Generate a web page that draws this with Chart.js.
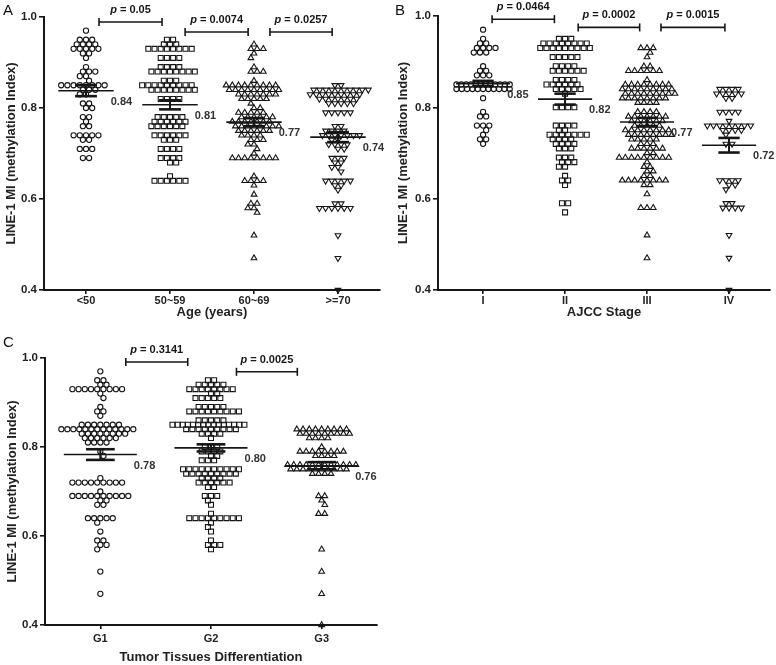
<!DOCTYPE html>
<html>
<head>
<meta charset="utf-8">
<script src="https://cdn.jsdelivr.net/npm/chart.js@4.4.0/dist/chart.umd.min.js"></script>
<style>
  html, body { margin: 0; padding: 0; background: #fff; }
  #wrap { position: relative; width: 776px; height: 665px; overflow: hidden;
          font-family: Arial, "Liberation Sans", sans-serif; }
  canvas { position: absolute; }
  .tag { position: absolute; font-size: 15px; line-height: 1; color: #111; }
</style>
</head>
<body>
<div id="wrap">
  <canvas id="chartA" width="390" height="325" style="left:0;top:0"></canvas>
  <canvas id="chartB" width="386" height="325" style="left:390px;top:0"></canvas>
  <canvas id="chartC" width="390" height="335" style="left:0;top:330px"></canvas>
  <div class="tag" style="left:3px;top:2px">A</div>
  <div class="tag" style="left:395px;top:2px">B</div>
  <div class="tag" style="left:3px;top:334px">C</div>
</div>
<script>
(function () {
    "use strict";

    const yTicks = [0.4, 0.6, 0.8, 1.0];
    const ageGroups = ['<50', '50~59', '60~69', '>=70'];
    const stageGroups = ['I', 'II', 'III', 'IV'];
    const gradeGroups = ['G1', 'G2', 'G3'];

    // [methylation index, number of patients at that value]
    const ageUnder50 = [[0.97,1],[0.95,3],[0.94,4],[0.93,5],[0.92,2],[0.91,1],[0.89,1],[0.88,3],[0.87,2],[0.86,1],[0.85,8],[0.84,3],[0.83,2],[0.81,2],[0.80,2],[0.78,2],[0.77,1],[0.76,2],[0.74,5],[0.73,2],[0.71,3],[0.69,2]];
    const age50s = [[0.95,2],[0.94,3],[0.93,8],[0.91,4],[0.89,4],[0.88,8],[0.86,3],[0.85,9],[0.84,8],[0.82,4],[0.78,5],[0.77,6],[0.76,6],[0.74,6],[0.73,3],[0.71,4],[0.69,4],[0.68,2],[0.65,1],[0.64,6]];
    const age60s = [[0.94,1],[0.93,3],[0.92,1],[0.91,1],[0.89,1],[0.88,3],[0.86,1],[0.85,9],[0.84,9],[0.83,7],[0.82,5],[0.81,1],[0.80,2],[0.79,5],[0.78,6],[0.77,7],[0.76,8],[0.75,6],[0.74,4],[0.73,3],[0.72,2],[0.71,1],[0.70,1],[0.69,8],[0.65,1],[0.64,4],[0.63,1],[0.61,1],[0.59,2],[0.58,2],[0.57,1],[0.52,1],[0.47,1]];
    const age70plus = [[0.85,2],[0.84,10],[0.83,9],[0.82,7],[0.81,5],[0.79,5],[0.76,2],[0.75,4],[0.74,7],[0.73,2],[0.72,4],[0.71,2],[0.69,3],[0.68,2],[0.67,2],[0.66,1],[0.64,5],[0.63,2],[0.62,1],[0.59,2],[0.58,6],[0.52,1],[0.47,1],[0.40,1]];

    const stageI = [[0.97,1],[0.95,1],[0.94,2],[0.93,4],[0.92,3],[0.89,1],[0.88,2],[0.87,3],[0.85,12],[0.84,11],[0.82,1],[0.79,1],[0.78,2],[0.76,3],[0.75,1],[0.74,1],[0.73,2],[0.72,1]];
    const stageII = [[0.95,3],[0.94,8],[0.93,9],[0.91,5],[0.89,4],[0.88,6],[0.86,4],[0.85,6],[0.84,5],[0.83,1],[0.80,4],[0.76,4],[0.75,2],[0.74,7],[0.73,4],[0.72,4],[0.71,3],[0.69,3],[0.68,3],[0.67,2],[0.65,1],[0.64,2],[0.63,1],[0.59,2],[0.57,1]];
    const stageIII = [[0.93,3],[0.92,1],[0.91,1],[0.89,2],[0.88,6],[0.86,1],[0.85,8],[0.84,9],[0.83,9],[0.82,8],[0.81,4],[0.79,4],[0.78,7],[0.77,6],[0.76,5],[0.75,8],[0.74,8],[0.73,5],[0.72,3],[0.71,6],[0.70,2],[0.69,9],[0.68,1],[0.67,2],[0.66,2],[0.65,2],[0.64,8],[0.63,2],[0.61,1],[0.58,3],[0.52,1],[0.47,1]];
    const stageIV = [[0.84,4],[0.83,5],[0.82,2],[0.79,4],[0.77,1],[0.76,8],[0.75,4],[0.74,1],[0.72,2],[0.64,4],[0.63,2],[0.62,1],[0.59,2],[0.58,4],[0.52,1],[0.47,1],[0.40,1]];

    const gradeG1 = [[0.97,1],[0.95,2],[0.94,2],[0.93,9],[0.92,1],[0.91,1],[0.89,1],[0.88,2],[0.87,1],[0.85,7],[0.84,13],[0.83,8],[0.82,6],[0.81,4],[0.79,1],[0.78,1],[0.73,1],[0.72,9],[0.70,1],[0.69,10],[0.68,2],[0.67,2],[0.64,5],[0.63,1],[0.61,1],[0.59,2],[0.58,2],[0.57,1],[0.52,1],[0.47,1]];
    const gradeG2 = [[0.95,2],[0.94,5],[0.93,8],[0.92,2],[0.91,5],[0.89,5],[0.88,9],[0.86,5],[0.85,15],[0.84,9],[0.83,4],[0.82,1],[0.80,3],[0.79,4],[0.78,2],[0.77,3],[0.75,10],[0.74,9],[0.73,4],[0.72,6],[0.71,2],[0.69,3],[0.68,1],[0.67,1],[0.65,1],[0.64,9],[0.63,1],[0.62,1],[0.61,1],[0.59,1],[0.58,3],[0.57,1]];
    const gradeG3 = [[0.84,9],[0.83,9],[0.82,4],[0.80,1],[0.79,8],[0.78,4],[0.76,12],[0.75,10],[0.74,4],[0.69,2],[0.68,1],[0.67,1],[0.65,2],[0.57,1],[0.52,1],[0.47,1],[0.40,1]];

    // mean +/- SEM as plotted
    const ageMeans = [0.838, 0.807, 0.769, 0.736];
    const ageSems = [0.012, 0.010, 0.009, 0.011];
    const stageMeans = [0.852, 0.818, 0.768, 0.717];
    const stageSems = [0.006, 0.012, 0.009, 0.016];
    const gradeMeans = [0.783, 0.798, 0.758];
    const gradeSems = [0.012, 0.008, 0.008];

    const agePValues = ['0.05', '0.0074', '0.0257'];
    const stagePValues = ['0.0464', '0.0002', '0.0015'];
    const gradePValues = ['0.3141', '0.0025'];

    Chart.defaults.font.family = 'Arial, "Liberation Sans", sans-serif';
    Chart.defaults.color = '#111';

    var ink = '#161616';
    var fontFam = 'Arial, "Liberation Sans", sans-serif';

    // spread equal values side by side; neighbouring rows are staggered by half a step
    function swarm(levels, cat, pxPerUnit) {
        var pts = [];
        var maxW = 0.65 * pxPerUnit;
        var prev = null, sign = 1;
        levels.forEach(function (lv) {
            var v = lv[0], n = lv[1];
            var step = n > 1 ? Math.min(6.2, maxW / (n - 1)) : 6.2;
            var phase = n % 2 ? 0 : step / 2;
            var shift = 0;
            if (prev && Math.abs(prev.v - v) < 0.0151) {
                var d = ((phase - prev.g) % step + step) % step;
                if (Math.abs(d - step / 2) > step / 4) {
                    shift = sign * step / 2;
                    sign = -sign;
                }
            }
            for (var k = 0; k < n; k++) {
                var off = shift + (n > 1 ? (k - (n - 1) / 2) * step : 0);
                pts.push({ x: cat + off / pxPerUnit, y: v });
            }
            prev = { v: v, g: ((phase + shift) % step + step) % step };
        });
        return pts;
    }

    function line(ctx, x1, y1, x2, y2) {
        ctx.beginPath();
        ctx.moveTo(x1, y1);
        ctx.lineTo(x2, y2);
        ctx.stroke();
    }

    function summaryPlugin(means, sems, tests) {
        return {
            id: 'summary',
            afterDatasetsDraw: function (chart) {
                var ctx = chart.ctx, x = chart.scales.x, y = chart.scales.y;
                ctx.save();
                ctx.strokeStyle = ink;
                means.forEach(function (m, i) {
                    var c = i + 1;
                    var my = y.getPixelForValue(m);
                    var cx = x.getPixelForValue(c);
                    ctx.lineWidth = 1.6;
                    line(ctx, x.getPixelForValue(c - 0.33), my, x.getPixelForValue(c + 0.33), my);
                    var hi = y.getPixelForValue(m + sems[i]);
                    var lo = y.getPixelForValue(m - sems[i]);
                    ctx.lineWidth = 2;
                    line(ctx, cx, hi, cx, lo);
                    ctx.lineWidth = 2.6;
                    line(ctx, x.getPixelForValue(c - 0.13), hi, x.getPixelForValue(c + 0.13), hi);
                    line(ctx, x.getPixelForValue(c - 0.13), lo, x.getPixelForValue(c + 0.13), lo);
                    ctx.font = 'bold 11px ' + fontFam;
                    ctx.fillStyle = '#333';
                    ctx.textAlign = 'left';
                    ctx.textBaseline = 'middle';
                    ctx.fillText(m.toFixed(2), x.getPixelForValue(c + 0.33) - 3, my + 11);
                });
                ctx.fillStyle = ink;
                tests.forEach(function (t) {
                    var x1 = x.getPixelForValue(t.span[0]);
                    var x2 = x.getPixelForValue(t.span[1]);
                    var yy = y.getPixelForValue(t.level);
                    ctx.lineWidth = 1.6;
                    line(ctx, x1, yy, x2, yy);
                    line(ctx, x1, yy - 4, x1, yy + 4);
                    line(ctx, x2, yy - 4, x2, yy + 4);
                    ctx.textBaseline = 'middle';
                    ctx.textAlign = 'left';
                    ctx.font = 'italic bold 11px ' + fontFam;
                    var w1 = ctx.measureText('p').width;
                    ctx.font = 'bold 11px ' + fontFam;
                    var rest = ' = ' + t.p;
                    var w2 = ctx.measureText(rest).width;
                    var sx = (x1 + x2) / 2 - (w1 + w2) / 2;
                    var ty = yy - 12;
                    ctx.font = 'italic bold 11px ' + fontFam;
                    ctx.fillText('p', sx, ty);
                    ctx.font = 'bold 11px ' + fontFam;
                    ctx.fillText(rest, sx + w1, ty);
                });
                ctx.restore();
            }
        };
    }

    function buildPanel(id, cfg) {
        var datasets = cfg.groups.map(function (levels, i) {
            var st = cfg.styles[i];
            return {
                data: swarm(levels, i + 1, cfg.pxPerUnit),
                pointStyle: st.shape,
                pointRotation: st.rot || 0,
                pointRadius: st.r,
                pointBorderColor: ink,
                pointBackgroundColor: 'rgba(0,0,0,0)',
                pointBorderWidth: 1.1,
                clip: false
            };
        });

        new Chart(document.getElementById(id), {
            type: 'scatter',
            data: { datasets: datasets },
            options: {
                responsive: false,
                animation: false,
                events: [],
                layout: { padding: cfg.padding },
                plugins: { legend: { display: false }, tooltip: { enabled: false } },
                scales: {
                    x: {
                        type: 'linear',
                        min: cfg.xMin,
                        max: cfg.xMax,
                        afterBuildTicks: function (s) {
                            s.ticks = cfg.cats.map(function (c, i) { return { value: i + 1 }; });
                        },
                        afterFit: function (s) { s.height = cfg.xHeight; },
                        ticks: {
                            callback: function (v) { return cfg.cats[Math.round(v) - 1]; },
                            font: { size: 11, weight: 'bold' },
                            color: '#222',
                            padding: cfg.xTickPad,
                            autoSkip: false,
                            maxRotation: 0
                        },
                        grid: { drawOnChartArea: false, tickLength: 4, color: ink, lineWidth: 1.6 },
                        border: { color: ink, width: 2 },
                        title: {
                            display: true,
                            text: cfg.xTitle,
                            font: { size: 13, weight: 'bold' },
                            color: '#222',
                            padding: { top: 0, bottom: cfg.xTitlePad }
                        }
                    },
                    y: {
                        min: 0.4,
                        max: 1.0,
                        afterBuildTicks: function (s) {
                            s.ticks = yTicks.map(function (v) { return { value: v }; });
                        },
                        afterFit: function (s) { s.width = 42; },
                        ticks: {
                            callback: function (v) { return v.toFixed(1); },
                            font: { size: 11.5, weight: 'bold' },
                            color: '#222',
                            padding: 2
                        },
                        grid: { drawOnChartArea: false, tickLength: 5, color: ink, lineWidth: 1.6 },
                        border: { color: ink, width: 2 },
                        title: {
                            display: true,
                            text: 'LINE-1 MI (methylation Index)',
                            font: { size: 13, weight: 'bold' },
                            color: '#222',
                            padding: { top: cfg.yTitlePad, bottom: 0 }
                        }
                    }
                }
            },
            plugins: [summaryPlugin(cfg.means, cfg.sems, cfg.tests)]
        });
    }

    var circle = { shape: 'circle', r: 2.6 };
    var square = { shape: 'rect', r: 3.5 };
    var tri = { shape: 'triangle', r: 3.3 };
    var triDown = { shape: 'triangle', r: 3.3, rot: 180 };

    buildPanel('chartA', {
        cats: ageGroups,
        groups: [ageUnder50, age50s, age60s, age70plus],
        styles: [circle, square, tri, triDown],
        means: ageMeans,
        sems: ageSems,
        tests: [
            { span: [1.155, 1.905], level: 0.989, p: agePValues[0] },
            { span: [2.18, 2.93], level: 0.967, p: agePValues[1] },
            { span: [3.19, 3.93], level: 0.967, p: agePValues[2] }
        ],
        xTitle: 'Age (years)',
        xMin: 0.5, xMax: 4.5, pxPerUnit: 84,
        padding: { left: 2, top: 17, right: 10, bottom: 0 },
        xHeight: 35, xTickPad: 0, xTitlePad: 5, yTitlePad: 2
    });

    buildPanel('chartB', {
        cats: stageGroups,
        groups: [stageI, stageII, stageIII, stageIV],
        styles: [circle, square, tri, triDown],
        means: stageMeans,
        sems: stageSems,
        tests: [
            { span: [1.11, 1.87], level: 0.993, p: stagePValues[0] },
            { span: [2.16, 2.91], level: 0.975, p: stagePValues[1] },
            { span: [3.17, 3.95], level: 0.975, p: stagePValues[2] }
        ],
        xTitle: 'AJCC Stage',
        xMin: 0.45, xMax: 4.5, pxPerUnit: 82,
        padding: { left: 6, top: 16, right: 6, bottom: 0 },
        xHeight: 35, xTickPad: 0, xTitlePad: 5, yTitlePad: 0
    });

    buildPanel('chartC', {
        cats: gradeGroups,
        groups: [gradeG1, gradeG2, gradeG3],
        styles: [circle, square, tri],
        means: gradeMeans,
        sems: gradeSems,
        tests: [
            { span: [1.23, 1.79], level: 0.991, p: gradePValues[0] },
            { span: [2.23, 2.78], level: 0.969, p: gradePValues[1] }
        ],
        xTitle: 'Tumor Tissues Differentiation',
        xMin: 0.5, xMax: 3.5, pxPerUnit: 110.5,
        padding: { left: 3, top: 28, right: 13, bottom: 0 },
        xHeight: 40, xTickPad: 3, xTitlePad: 0, yTitlePad: 2
    });

})();
</script>
</body>
</html>
